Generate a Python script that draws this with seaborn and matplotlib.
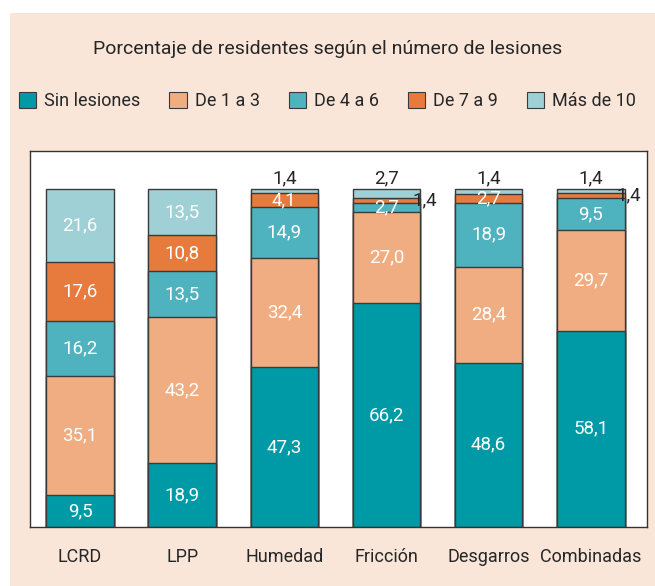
import matplotlib
matplotlib.use("Agg")
import matplotlib.pyplot as plt
import seaborn as sns
import numpy as np
import pandas as pd
from matplotlib.patches import Rectangle, Patch

categories = ["LCRD", "LPP", "Humedad", "Fricción", "Desgarros", "Combinadas"]
series_names = ["Sin lesiones", "De 1 a 3", "De 4 a 6", "De 7 a 9", "Más de 10"]
sin_lesiones = [9.5, 18.9, 47.3, 66.2, 48.6, 58.1]
de_1_a_3 = [35.1, 43.2, 32.4, 27.0, 28.4, 29.7]
de_4_a_6 = [16.2, 13.5, 14.9, 2.7, 18.9, 9.5]
de_7_a_9 = [17.6, 10.8, 4.1, 1.4, 2.7, 1.4]
mas_de_10 = [21.6, 13.5, 1.4, 2.7, 1.4, 1.4]
colors = ["#009aa6", "#f0ad82", "#4fb2bf", "#e67b3d", "#9ed0d6"]
title = "Porcentaje de residentes según el número de lesiones"

series = [sin_lesiones, de_1_a_3, de_4_a_6, de_7_a_9, mas_de_10]

sns.set_theme(style="white")
plt.rcParams["font.family"] = ["Roboto", "DejaVu Sans"]

fig = plt.figure(figsize=(6.55, 5.86), dpi=100)
fig.patch.set_facecolor("white")
fig.patches.append(Rectangle((10 / 655, 0), 1 - 10 / 655, 1 - 13 / 586,
                             transform=fig.transFigure, facecolor="#fae6d9",
                             edgecolor="none", zorder=-10))

ax = fig.add_axes([30 / 655, 1 - 527 / 586, (647 - 30) / 655, (527 - 151) / 586])
ax.set_facecolor("white")

cum = np.zeros(len(categories))
cums = []
for s in series:
    cum = cum + np.array(s)
    cums.append(cum.copy())

# draw stacked bars (cumulative totals, largest first)
for i in reversed(range(len(series))):
    d = pd.DataFrame({"cat": categories, "val": cums[i]})
    sns.barplot(data=d, x="cat", y="val", color=colors[i], saturation=1,
                width=0.66, edgecolor="#3a3a3a", linewidth=1.0, ax=ax)

# labels
dark = "#262626"
fs = 13.5
for j, cat in enumerate(categories):
    bottom = 0.0
    for i, s in enumerate(series):
        v = s[j]
        center = bottom + v / 2
        txt = f"{v:.1f}".replace(".", ",")
        if i == len(series) - 1 and v < 5:
            ax.text(j, 101.6, txt, ha="center", va="baseline", color=dark, fontsize=fs)
        elif v < 2:
            ax.text(j + 0.37, center, txt, ha="center", va="center", color=dark, fontsize=fs)
        else:
            ax.text(j, center, txt, ha="center", va="center", color="white", fontsize=fs)
        bottom += v

ax.set_xlim(-0.49, 5.55)
ax.set_ylim(0, 111.2)
ax.set_xlabel("")
ax.set_ylabel("")
ax.set_yticks([])
ax.tick_params(axis="x", length=0, pad=15, labelsize=13, colors=dark)
for sp in ax.spines.values():
    sp.set_color("#333333")
    sp.set_linewidth(1.0)

fig.text(0.5, 1 - 49 / 586, title, ha="center", va="center", fontsize=14, color=dark)

handles = [Patch(facecolor=c, edgecolor="#3a3a3a", linewidth=0.8) for c in colors]
fig.legend(handles, series_names, loc="center", bbox_to_anchor=(0.5, 1 - 101 / 586),
           ncol=5, frameon=False, fontsize=13, handlelength=0.95, handleheight=0.95,
           handletextpad=0.45, columnspacing=1.6, labelcolor=dark)

fig.savefig("out.png", dpi=100, facecolor=fig.get_facecolor())
